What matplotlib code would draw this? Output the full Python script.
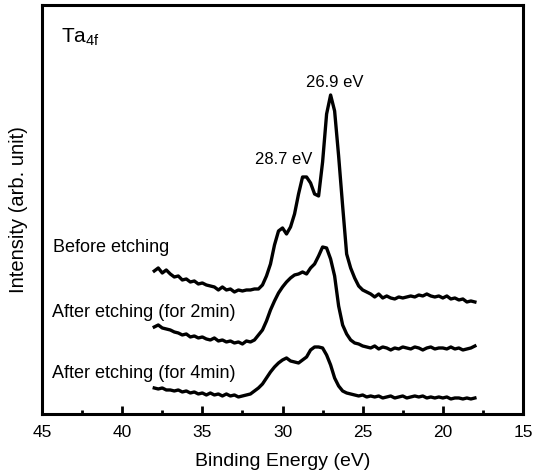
import numpy as np
import matplotlib
matplotlib.use('Agg')
import matplotlib.pyplot as plt
from matplotlib.ticker import MultipleLocator

plt.rcParams['font.family'] = ['Liberation Sans', 'DejaVu Sans']
plt.rcParams['mathtext.fontset'] = 'custom'
plt.rcParams['mathtext.rm'] = 'Liberation Sans'

# XPS Ta 4f spectra, binding energy grid (eV), 38 -> 18 in 0.25 steps
energy = np.arange(38.0, 17.99, -0.25)

# intensities (arb. unit), offset as in the figure
before = [143, 146, 141, 144, 140, 137, 138, 134,
          135, 132, 133, 130, 131, 129, 128, 127,
          124, 127, 124, 125, 122, 124, 123, 124,
          124, 125, 125, 129, 138, 150, 169, 183,
          186, 180, 187, 200, 220, 237, 237, 231,
          220, 218, 252, 300, 319, 303, 258, 208,
          160, 146, 136, 128, 124, 122, 120, 117,
          120, 116, 118, 116, 115, 117, 116, 117,
          118, 117, 119, 118, 120, 118, 117, 118,
          116, 118, 115, 116, 114, 115, 112, 113,
          112]
etch_2min = [87, 89, 86, 85, 84, 82, 81, 79,
             80, 77, 78, 76, 77, 75, 74, 76,
             73, 74, 72, 73, 71, 72, 70, 73,
             72, 74, 79, 84, 93, 104, 113, 121,
             127, 132, 136, 139, 140, 142, 140, 146,
             150, 158, 167, 166, 155, 138, 108, 89,
             80, 74, 71, 70, 68, 67, 66, 68,
             65, 67, 66, 64, 66, 65, 67, 66,
             65, 67, 66, 64, 66, 67, 65, 66,
             66, 65, 67, 65, 66, 64, 65, 66,
             68]
etch_4min = [26, 25, 26, 24, 24, 23, 24, 22,
             23, 21, 22, 20, 21, 19, 21, 19,
             20, 18, 20, 18, 19, 17, 18, 19,
             20, 23, 26, 30, 36, 42, 47, 51,
             54, 56, 53, 52, 51, 54, 57, 64,
             67, 67, 66, 59, 49, 36, 28, 23,
             21, 20, 19, 18, 19, 17, 18, 17,
             18, 16, 17, 18, 16, 17, 18, 16,
             17, 18, 17, 18, 16, 17, 16, 17,
             16, 17, 15, 16, 16, 15, 16, 15,
             16]

labels = ['Before etching', 'After etching (for 2min)', 'After etching (for 4min)']

fig = plt.figure(figsize=(5.34, 4.76), dpi=100)
ax = fig.add_axes([0.0787, 0.1303, 0.9007, 0.8592])

for y in (before, etch_2min, etch_4min):
    ax.plot(energy, y, color='black', lw=2.4, solid_joinstyle='round')

ax.set_xlim(45, 15)
ax.set_ylim(0, 409)

# curve labels
ax.text(44.3, 162, labels[0], fontsize=13)
ax.text(44.35, 97, labels[1], fontsize=13)
ax.text(44.35, 36, labels[2], fontsize=13)

# peak positions
ax.text(28.55, 327, '26.9 eV', fontsize=12)
ax.text(31.7, 250, '28.7 eV', fontsize=12)
ax.text(43.8, 372, 'Ta$_{\\mathregular{4f}}$', fontsize=15)

ax.xaxis.set_major_locator(MultipleLocator(5))
ax.xaxis.set_minor_locator(MultipleLocator(2.5))
ax.tick_params(axis='x', which='major', direction='in', length=6, width=2, labelsize=12.5, pad=8)
ax.tick_params(axis='x', which='minor', direction='in', length=3, width=2)
ax.set_yticks([])
for s in ax.spines.values():
    s.set_linewidth(2.2)

ax.set_xlabel('Binding Energy (eV)', fontsize=14)
ax.set_ylabel('Intensity (arb. unit)', fontsize=14.5)
ax.xaxis.set_label_coords(0.5, -0.095)
ax.yaxis.set_label_coords(-0.03, 0.5)

fig.savefig('out.png', dpi=100)
